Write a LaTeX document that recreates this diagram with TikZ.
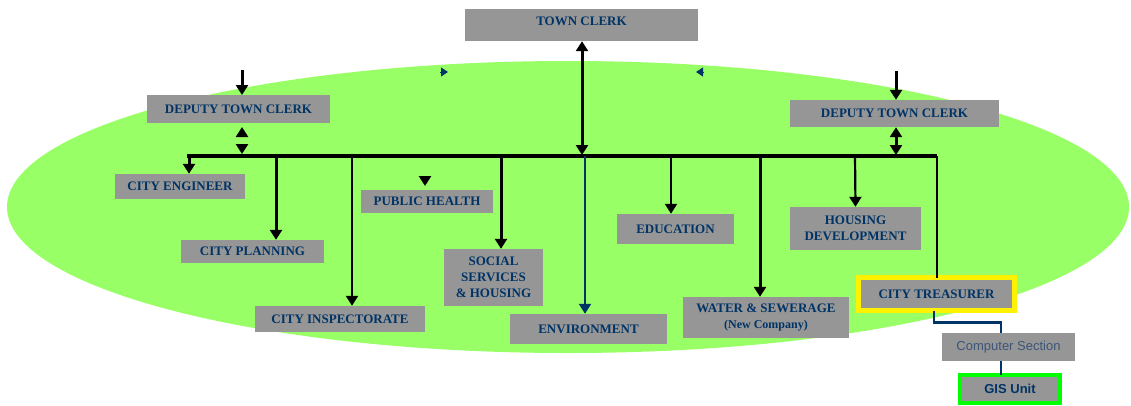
\documentclass[tikz,border=0pt]{standalone}
\usepackage{fontspec}
\setmainfont{Liberation Serif}
\setsansfont{Liberation Sans}
\usetikzlibrary{arrows.meta}

\definecolor{oval}{HTML}{99FF66}
\definecolor{boxgray}{HTML}{969696}
\definecolor{navy}{HTML}{003366}
\definecolor{softnavy}{RGB}{60,85,120}

\tikzset{
  >={Triangle[width=12pt,length=10pt]},
  box/.style={fill=boxgray, text=navy, inner sep=0pt, align=center,
    font=\bfseries\fontsize{13}{16}\selectfont},
  arr/.style={line width=3pt, ->},
  thinarr/.style={line width=2.2pt, ->},
  dbl/.style={line width=3pt, <->},
  link/.style={navy, line width=2.2pt},
}

\begin{document}
\begin{tikzpicture}[x=1pt,y=-1pt]

\fill[white] (0,0) rectangle (1131,405);
\useasboundingbox (0,0) rectangle (1131,405);

% the green oval behind the departments
\fill[oval] (568,207) ellipse [x radius=561, y radius=146];

% top of the tree
\node[box, minimum width=233, minimum height=32, text depth=8pt] (tc) at (581.5,25) {TOWN CLERK};
\node[box, minimum width=183, minimum height=28] (dl) at (238.5,109) {DEPUTY TOWN CLERK};
\node[box, minimum width=209, minimum height=27] (dr) at (894.5,113.5) {DEPUTY TOWN CLERK};

% departments
\node[box, minimum width=130, minimum height=25] (eng) at (180,186.5) {CITY ENGINEER};
\node[box, minimum width=143, minimum height=23] (plan) at (252.5,251.5) {CITY PLANNING};
\node[box, minimum width=170, minimum height=26] (insp) at (340,319) {CITY INSPECTORATE};
\node[box, minimum width=132, minimum height=23] (ph) at (427,201.5) {PUBLIC HEALTH};
\node[box, minimum width=99, minimum height=57] (soc) at (493.5,277.5) {SOCIAL\\SERVICES\\\& HOUSING};
\node[box, minimum width=157, minimum height=30] (env) at (588.5,329) {ENVIRONMENT};
\node[box, minimum width=117, minimum height=30] (edu) at (675.5,229) {EDUCATION};
\node[box, minimum width=166, minimum height=41] (wat) at (766,317.5)
  {WATER \& SEWERAGE\\{\fontsize{12}{14}\selectfont(New Company)}};
\node[box, minimum width=131, minimum height=43] (hous) at (855.5,228.5) {HOUSING\\DEVELOPMENT};
\node[box, draw=yellow, line width=5pt, minimum width=156, minimum height=33] (tr) at (936.5,294) {CITY TREASURER};

% treasurer's section
\node[box, minimum width=133, minimum height=28, text=softnavy,
  font=\sffamily\fontsize{13}{16}\selectfont] (comp) at (1008.5,347) {Computer Section};
\node[box, draw={rgb,255:red,0;green,255;blue,0}, line width=4pt, minimum width=100, minimum height=28,
  font=\sffamily\bfseries\fontsize{13}{16}\selectfont] (gis) at (1010,389) {GIS Unit};

% the bus
\coordinate (busL) at (189,156);
\coordinate (busR) at (937,156);
\draw[line width=3.6pt] ([xshift=-1.8pt]busL) -- (busR);

% links to the town clerk and deputies
\draw[dbl] (tc.south -| 582,0) -- (582,155);
\draw[arr] (242,70) -- (242,95);
\draw[arr] (242,137) -- (242,127);
\draw[arr] (242,145) -- (242,154);
\draw[arr] (896,71) -- (dr.north -| 896,0);
\draw[dbl] (dr.south -| 896,0) -- (896,155);

% small marks near the top of the oval
\draw[navy, line width=1pt, -{Triangle[width=9pt,length=7pt]}] (440,72) -- (448,72);
\draw[navy, line width=1pt, -{Triangle[width=9pt,length=7pt]}] (704,72) -- (696,72);
\draw[arr] (425,177) -- (425,186);

% bus to departments
\draw[arr] (busL) -- (busL |- eng.north);
\draw[arr] (276,156) -- (plan.north -| 276,0);
\draw[thinarr] (352,156) -- (insp.north -| 352,0);
\draw[arr] (501,156) -- (soc.north -| 501,0);
\draw[thinarr, navy] (585,156) -- (env.north -| 585,0);
\draw[thinarr] (671,156) -- (edu.north -| 671,0);
\draw[arr] (760,156) -- (wat.north -| 760,0);
\draw[thinarr] (855,156) -- (hous.north);
\draw[line width=2.2pt] (busR) -- ([yshift=-2.5pt]busR |- tr.north);

% treasurer down to the GIS unit
\draw[link] ([xshift=-2.5pt,yshift=2.5pt]tr.south) -- ++(0,12) -| ([xshift=-7.5pt]comp.north);
\draw[link] ([xshift=-7.5pt]comp.south) -- ([xshift=-9pt,yshift=-2pt]gis.north);

\end{tikzpicture}
\end{document}
